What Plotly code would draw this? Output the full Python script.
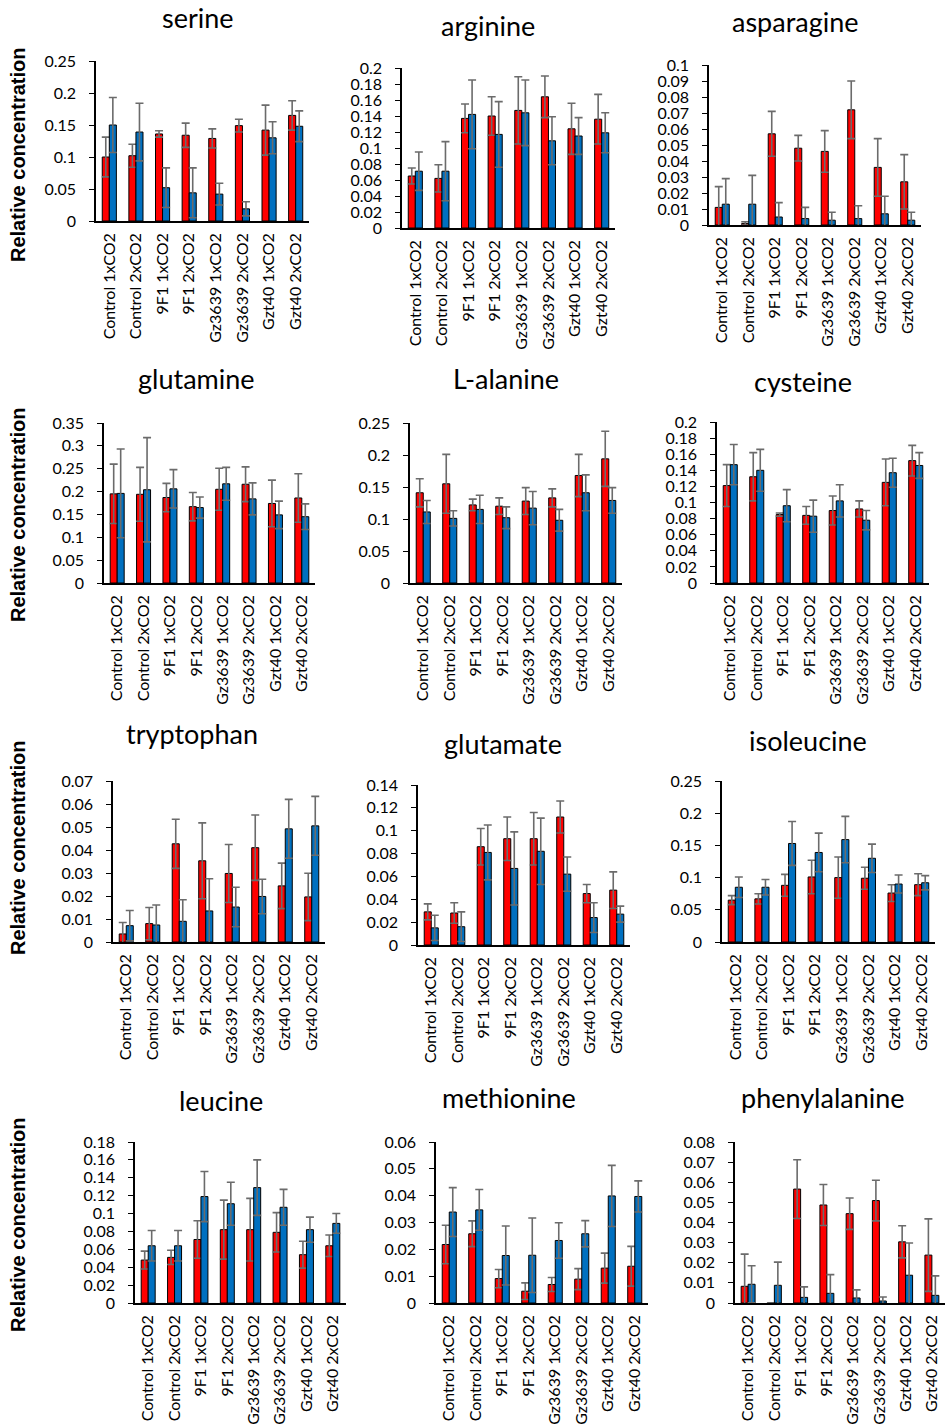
import plotly.graph_objects as go

W, H = 948, 1426

categories = ["Control 1xCO2", "Control 2xCO2", "9F1 1xCO2", "9F1 2xCO2",
              "Gz3639 1xCO2", "Gz3639 2xCO2", "Gzt40 1xCO2", "Gzt40 2xCO2"]

serine_red = [0.100, 0.102, 0.136, 0.134, 0.129, 0.149, 0.142, 0.165]
serine_red_err = [0.031, 0.018, 0.005, 0.019, 0.015, 0.010, 0.039, 0.023]
serine_blue = [0.150, 0.139, 0.052, 0.044, 0.042, 0.019, 0.130, 0.148]
serine_blue_err = [0.043, 0.045, 0.031, 0.039, 0.017, 0.011, 0.025, 0.024]

arginine_red = [0.065, 0.062, 0.137, 0.140, 0.147, 0.164, 0.124, 0.136]
arginine_red_err = [0.010, 0.017, 0.018, 0.024, 0.042, 0.026, 0.032, 0.031]
arginine_blue = [0.071, 0.071, 0.142, 0.117, 0.144, 0.109, 0.115, 0.119]
arginine_blue_err = [0.024, 0.037, 0.043, 0.041, 0.041, 0.030, 0.023, 0.025]

asparagine_red = [0.011, 0.001, 0.057, 0.048, 0.046, 0.072, 0.036, 0.027]
asparagine_red_err = [0.013, 0.001, 0.014, 0.008, 0.013, 0.018, 0.018, 0.017]
asparagine_blue = [0.013, 0.013, 0.005, 0.004, 0.003, 0.004, 0.007, 0.003]
asparagine_blue_err = [0.016, 0.018, 0.009, 0.007, 0.005, 0.008, 0.011, 0.005]

glutamine_red = [0.195, 0.194, 0.187, 0.167, 0.205, 0.216, 0.174, 0.186]
glutamine_red_err = [0.065, 0.059, 0.031, 0.031, 0.046, 0.038, 0.051, 0.053]
glutamine_blue = [0.196, 0.204, 0.206, 0.165, 0.217, 0.184, 0.149, 0.145]
glutamine_blue_err = [0.097, 0.114, 0.042, 0.023, 0.036, 0.035, 0.030, 0.028]

alanine_red = [0.141, 0.155, 0.122, 0.120, 0.128, 0.133, 0.168, 0.194]
alanine_red_err = [0.022, 0.046, 0.009, 0.013, 0.021, 0.014, 0.033, 0.043]
alanine_blue = [0.111, 0.101, 0.115, 0.102, 0.117, 0.098, 0.141, 0.129]
alanine_blue_err = [0.018, 0.012, 0.022, 0.017, 0.026, 0.017, 0.028, 0.020]

cysteine_red = [0.121, 0.132, 0.085, 0.084, 0.090, 0.092, 0.125, 0.152]
cysteine_red_err = [0.026, 0.030, 0.002, 0.011, 0.018, 0.010, 0.029, 0.019]
cysteine_blue = [0.147, 0.140, 0.096, 0.083, 0.102, 0.078, 0.137, 0.146]
cysteine_blue_err = [0.025, 0.026, 0.020, 0.020, 0.020, 0.012, 0.018, 0.016]

tryptophan_red = [0.0035, 0.008, 0.0427, 0.0353, 0.0298, 0.041, 0.0244, 0.0196]
tryptophan_red_err = [0.005, 0.007, 0.0107, 0.0165, 0.0126, 0.0142, 0.0099, 0.0103]
tryptophan_blue = [0.0071, 0.0074, 0.009, 0.0135, 0.0152, 0.0198, 0.0492, 0.0505]
tryptophan_blue_err = [0.0066, 0.0087, 0.0094, 0.014, 0.0086, 0.0075, 0.0128, 0.0128]

glutamate_red = [0.029, 0.028, 0.086, 0.093, 0.093, 0.112, 0.045, 0.048]
glutamate_red_err = [0.007, 0.009, 0.016, 0.019, 0.023, 0.014, 0.008, 0.016]
glutamate_blue = [0.015, 0.016, 0.081, 0.067, 0.082, 0.062, 0.024, 0.027]
glutamate_blue_err = [0.011, 0.013, 0.024, 0.032, 0.029, 0.015, 0.013, 0.007]

isoleucine_red = [0.065, 0.067, 0.088, 0.101, 0.100, 0.099, 0.076, 0.089]
isoleucine_red_err = [0.007, 0.008, 0.017, 0.026, 0.032, 0.017, 0.013, 0.017]
isoleucine_blue = [0.085, 0.085, 0.153, 0.139, 0.159, 0.130, 0.090, 0.092]
isoleucine_blue_err = [0.016, 0.012, 0.034, 0.030, 0.036, 0.022, 0.014, 0.011]

leucine_red = [0.048, 0.051, 0.071, 0.082, 0.082, 0.079, 0.054, 0.064]
leucine_red_err = [0.010, 0.008, 0.021, 0.033, 0.035, 0.022, 0.015, 0.012]
leucine_blue = [0.064, 0.064, 0.119, 0.111, 0.129, 0.107, 0.082, 0.089]
leucine_blue_err = [0.017, 0.017, 0.028, 0.024, 0.031, 0.020, 0.014, 0.011]

methionine_red = [0.0218, 0.0258, 0.0091, 0.0044, 0.0069, 0.0089, 0.0130, 0.0137]
methionine_red_err = [0.0072, 0.0048, 0.0034, 0.0031, 0.0026, 0.0039, 0.0056, 0.0074]
methionine_blue = [0.0339, 0.0347, 0.0177, 0.0178, 0.0233, 0.0258, 0.0399, 0.0397]
methionine_blue_err = [0.0091, 0.0076, 0.0110, 0.0139, 0.0066, 0.0049, 0.0114, 0.0058]

phenylalanine_red = [0.0083, 0.0, 0.0566, 0.0487, 0.0444, 0.0509, 0.0304, 0.0238]
phenylalanine_red_err = [0.016, 0.0, 0.0146, 0.0102, 0.0078, 0.0101, 0.008, 0.018]
phenylalanine_blue = [0.0093, 0.0088, 0.0028, 0.0048, 0.0025, 0.001, 0.0138, 0.0038]
phenylalanine_blue_err = [0.0092, 0.0115, 0.0052, 0.0093, 0.004, 0.002, 0.016, 0.0097]

titles = ["serine", "arginine", "asparagine", "glutamine", "L-alanine", "cysteine",
          "tryptophan", "glutamate", "isoleucine", "leucine", "methionine", "phenylalanine"]
y_max = [0.25, 0.2, 0.1, 0.35, 0.25, 0.2, 0.07, 0.14, 0.25, 0.18, 0.06, 0.08]
y_step = [0.05, 0.02, 0.01, 0.05, 0.05, 0.02, 0.01, 0.02, 0.05, 0.02, 0.01, 0.01]
y_title = "Relative concentration"

series = [
    (serine_red, serine_red_err, serine_blue, serine_blue_err),
    (arginine_red, arginine_red_err, arginine_blue, arginine_blue_err),
    (asparagine_red, asparagine_red_err, asparagine_blue, asparagine_blue_err),
    (glutamine_red, glutamine_red_err, glutamine_blue, glutamine_blue_err),
    (alanine_red, alanine_red_err, alanine_blue, alanine_blue_err),
    (cysteine_red, cysteine_red_err, cysteine_blue, cysteine_blue_err),
    (tryptophan_red, tryptophan_red_err, tryptophan_blue, tryptophan_blue_err),
    (glutamate_red, glutamate_red_err, glutamate_blue, glutamate_blue_err),
    (isoleucine_red, isoleucine_red_err, isoleucine_blue, isoleucine_blue_err),
    (leucine_red, leucine_red_err, leucine_blue, leucine_blue_err),
    (methionine_red, methionine_red_err, methionine_blue, methionine_blue_err),
    (phenylalanine_red, phenylalanine_red_err, phenylalanine_blue, phenylalanine_blue_err),
]

# plot-area boxes in pixels: (left, right, top, bottom)
boxes = [
    (96, 309, 61, 221), (402, 615, 68, 228), (709, 921, 65, 225),
    (104, 315, 423, 583), (410, 622, 423, 583), (717, 929, 422, 583),
    (113, 325, 781, 942), (418, 630, 785, 945), (722, 935, 781, 942),
    (135, 346, 1142, 1303), (436, 648, 1142, 1303), (735, 945, 1142, 1303),
]
title_pos = [
    (198, 17), (488, 25), (795, 22),
    (196, 378), (506, 378), (803, 381),
    (192, 733), (503, 743), (808, 740),
    (221, 1100), (509, 1097), (823, 1097),
]
ytitle_pos = [(18, 155), (18, 515), (18, 848), (18, 1225)]

RED = "#FF0000"
BLUE = "#0070C0"
ERR = "#6B6B6B"
FONT = "Lato"

fig = go.Figure()
layout = {}
for i, (red, red_err, blue, blue_err) in enumerate(series):
    n = i + 1
    xa = "x" if n == 1 else f"x{n}"
    ya = "y" if n == 1 else f"y{n}"
    for vals, errs, col in ((red, red_err, RED), (blue, blue_err, BLUE)):
        fig.add_trace(go.Bar(
            x=categories, y=vals, xaxis=xa, yaxis=ya, showlegend=False,
            marker=dict(color=col, line=dict(color="black", width=1)),
            error_y=dict(type="data", array=errs, visible=True,
                         color=ERR, thickness=1.6, width=4),
        ))
    l, r, t, b = boxes[i]
    layout[f"xaxis{n}"] = dict(
        domain=[l / W, r / W], anchor=ya, type="category", automargin=False,
        range=[-0.5, 7.5], showline=True, linecolor="black", linewidth=1.5,
        ticks="", tickangle=-90, showgrid=False, zeroline=False,
        ticklabelstandoff=4,
        tickfont=dict(family=FONT, size=16, color="black"),
    )
    layout[f"yaxis{n}"] = dict(
        domain=[1 - b / H, 1 - t / H], anchor=xa, automargin=False,
        range=[0, y_max[i]], tick0=0, dtick=y_step[i],
        showline=True, linecolor="black", linewidth=1.5,
        ticks="outside", ticklen=5, tickcolor="black", tickwidth=1.2,
        showgrid=False, zeroline=False, ticklabelstandoff=10,
        tickfont=dict(family=FONT, size=16, color="black"),
    )

annotations = []
for (cx, cy), txt in zip(title_pos, titles):
    annotations.append(dict(
        text=txt, x=cx / W, y=1 - cy / H, xref="paper", yref="paper",
        xanchor="center", yanchor="middle", showarrow=False,
        font=dict(family=FONT, size=27, color="black"),
    ))
for cx, cy in ytitle_pos:
    annotations.append(dict(
        text=f"<b>{y_title}</b>", x=cx / W, y=1 - cy / H, xref="paper", yref="paper",
        xanchor="center", yanchor="middle", showarrow=False, textangle=-90,
        font=dict(family="Liberation Sans", size=20, color="black"),
    ))

fig.update_layout(
    template="none",
    width=W, height=H, margin=dict(l=0, r=0, t=0, b=0, autoexpand=False),
    paper_bgcolor="white", plot_bgcolor="white",
    barmode="group", bargap=0.47, bargroupgap=0,
    annotations=annotations, **layout,
)

fig.write_html(
    "out.html",
    config={"displayModeBar": False},
    post_script="document.body.style.margin='0px';document.body.style.padding='0px';",
)
